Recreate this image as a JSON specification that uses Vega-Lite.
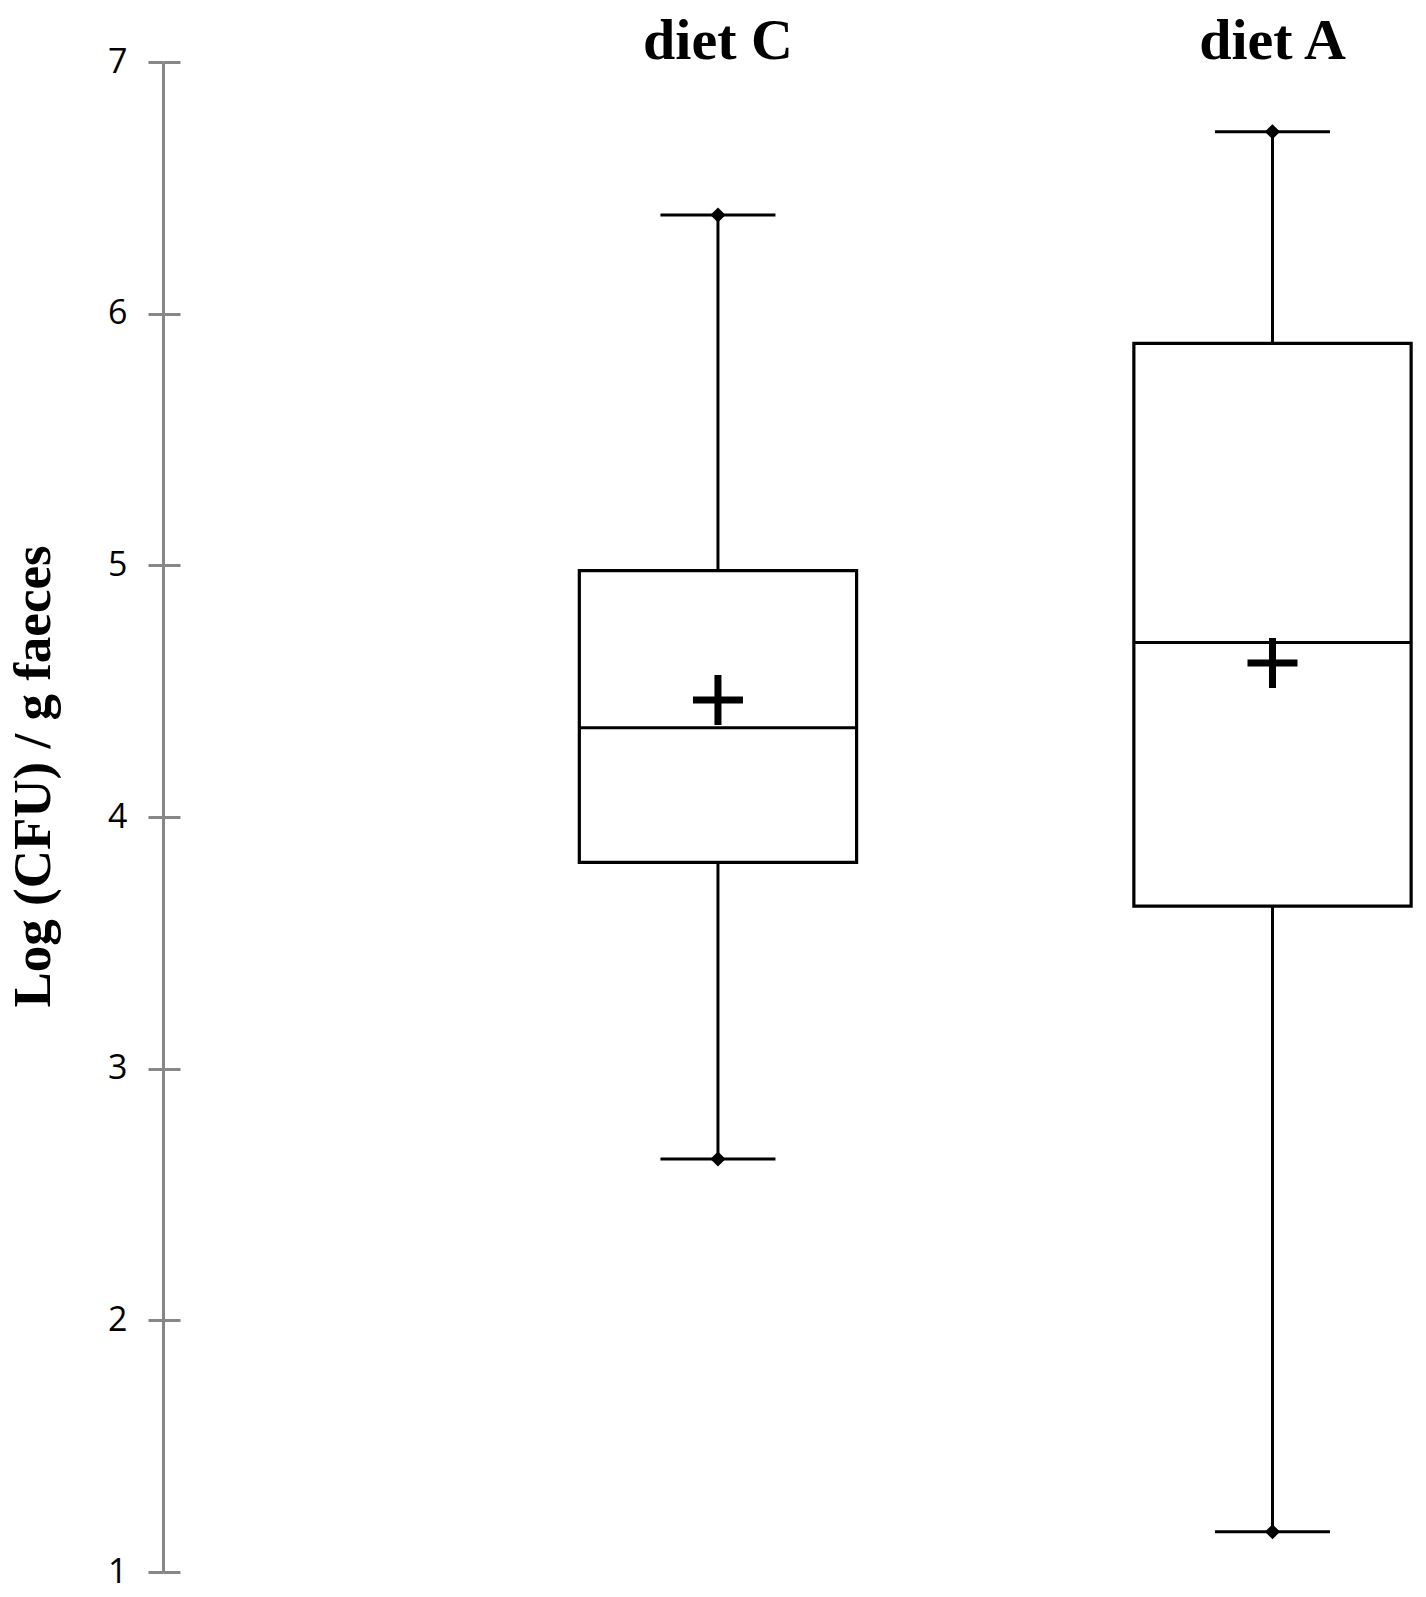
{
  "$schema": "https://vega.github.io/schema/vega-lite/v6.json",
  "autosize": {"type": "none"},
  "padding": {"left": 163, "top": 62, "right": 0, "bottom": 25},
  "width": 1263,
  "height": 1510,
  "background": "white",
  "config": {"view": {"stroke": null}},
  "data": {
    "values": [
      {"diet": "diet C", "min": 2.641, "q1": 3.820, "median": 4.355, "q3": 4.979, "max": 6.392, "mean": 4.465},
      {"diet": "diet A", "min": 1.160, "q1": 3.646, "median": 4.693, "q3": 5.882, "max": 6.723, "mean": 4.612}
    ]
  },
  "encoding": {
    "x": {
      "field": "diet",
      "type": "nominal",
      "sort": ["diet C", "diet A"],
      "scale": {"type": "band", "domain": ["diet C", "diet A"], "paddingInner": 0.5, "paddingOuter": 0.3888, "align": 0.9655},
      "axis": {
        "orient": "top",
        "title": null,
        "domain": false,
        "ticks": false,
        "tickSize": 0,
        "labelPadding": 4,
        "labelBaseline": "alphabetic",
        "labelAngle": 0,
        "labelFont": "Liberation Serif",
        "labelFontWeight": "bold",
        "labelFontSize": 58,
        "labelColor": "black"
      }
    }
  },
  "layer": [
    {
      "mark": {"type": "rule", "color": "black", "strokeWidth": 3},
      "encoding": {
        "y": {
          "field": "min",
          "type": "quantitative",
          "scale": {"domain": [1, 7], "nice": false, "zero": false},
          "axis": {
            "orient": "left",
            "values": [1, 2, 3, 4, 5, 6, 7],
            "grid": false,
            "domainColor": "#878787",
            "domainWidth": 3,
            "tickColor": "#878787",
            "tickWidth": 3,
            "tickSize": 15,
            "labelPadding": 21,
            "labelFont": "Open Sans",
            "labelFontSize": 34,
            "labelColor": "black",
            "title": "Log (CFU) / g faeces",
            "titleFont": "Liberation Serif",
            "titleFontWeight": "bold",
            "titleFontSize": 53,
            "titleColor": "black",
            "titleAngle": -90,
            "titleBaseline": "alphabetic",
            "titleX": -114,
            "titleY": 714
          }
        },
        "y2": {"field": "max"}
      }
    },
    {
      "mark": {"type": "bar", "fill": "white", "stroke": "black", "strokeWidth": 3.2},
      "encoding": {
        "y": {
          "field": "q1",
          "type": "quantitative",
          "axis": {
            "orient": "left",
            "offset": -17,
            "values": [1, 2, 3, 4, 5, 6, 7],
            "grid": false,
            "domain": false,
            "labels": false,
            "tickColor": "#878787",
            "tickWidth": 3,
            "tickSize": 17,
            "title": null
          }
        },
        "y2": {"field": "q3"}
      }
    },
    {
      "mark": {"type": "tick", "color": "black", "thickness": 3, "size": 277, "opacity": 1},
      "encoding": {"y": {"field": "median", "type": "quantitative", "axis": null}}
    },
    {
      "mark": {"type": "tick", "color": "black", "thickness": 3, "size": 115, "opacity": 1},
      "encoding": {"y": {"field": "max", "type": "quantitative", "axis": null}}
    },
    {
      "mark": {"type": "tick", "color": "black", "thickness": 3, "size": 115, "opacity": 1},
      "encoding": {"y": {"field": "min", "type": "quantitative", "axis": null}}
    },
    {
      "mark": {"type": "point", "shape": "diamond", "filled": true, "color": "black", "size": 230, "opacity": 1},
      "encoding": {"y": {"field": "max", "type": "quantitative", "axis": null}}
    },
    {
      "mark": {"type": "point", "shape": "diamond", "filled": true, "color": "black", "size": 230, "opacity": 1},
      "encoding": {"y": {"field": "min", "type": "quantitative", "axis": null}}
    },
    {
      "mark": {"type": "point", "shape": "M-1,0L1,0M0,-1L0,1", "filled": false, "stroke": "black", "strokeWidth": 7, "size": 2500, "opacity": 1},
      "encoding": {"y": {"field": "mean", "type": "quantitative", "axis": null}}
    }
  ],
  "resolve": {"axis": {"y": "independent"}}
}
